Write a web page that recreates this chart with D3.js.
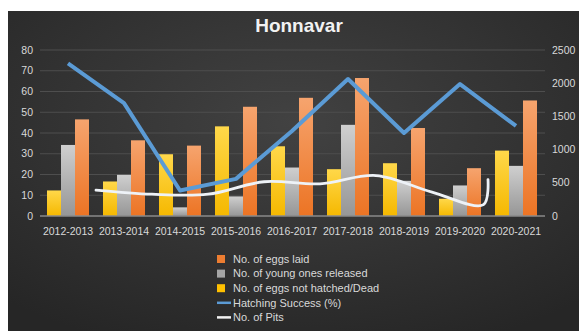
<!DOCTYPE html>
<meta charset="utf-8">
<style>
body { margin: 0; background: #fff; }
text { font-family: "Liberation Sans", Arial, sans-serif; }
</style>
<svg width="579" height="331"></svg>
<script src="https://d3js.org/d3.v7.min.js"></script>
<script>

var years = ["2012-2013", "2013-2014", "2014-2015", "2015-2016", "2016-2017",
             "2017-2018", "2018-2019", "2019-2020", "2020-2021"];
var eggsLaid = [1455, 1140, 1060, 1645, 1780, 2078, 1325, 720, 1740];
var youngReleased = [1070, 620, 130, 295, 730, 1373, 530, 460, 755];
var notHatched = [385, 520, 930, 1350, 1050, 705, 795, 260, 985];
var hatchSuccess = [73.5, 54.4, 12.3, 17.9, 41.0, 66.0, 40.0, 63.6, 43.4];
// pits line sits between the groups in the original, so keep its x as a category index
var pits = [12.5, 10.5, 10.5, 16.5, 15.5, 19.5, 11.5, 5.5, 17.5];
var pitIndex = [0.5, 1.5, 2.5, 3.5, 4.5, 5.5, 6.5, 7.42, 7.5];
var leftTicks = [0, 10, 20, 30, 40, 50, 60, 70, 80];
var rightTicks = [0, 500, 1000, 1500, 2000, 2500];

var svg = d3.select("svg");
var defs = svg.append("defs");

var bg = defs.append("radialGradient").attr("id", "bg")
    .attr("cx", "50%").attr("cy", "35%").attr("r", "75%");
bg.append("stop").attr("offset", "0%").attr("stop-color", "#424242");
bg.append("stop").attr("offset", "100%").attr("stop-color", "#262626");

function barGrad(id, top, bottom) {
  var g = defs.append("linearGradient").attr("id", id)
      .attr("x1", 0).attr("y1", 0).attr("x2", 0).attr("y2", 1);
  g.append("stop").attr("offset", "0%").attr("stop-color", top);
  g.append("stop").attr("offset", "100%").attr("stop-color", bottom);
}
barGrad("gOrange", "#f6a46e", "#ec7424");
barGrad("gGrey", "#cfcfcf", "#969696");
barGrad("gYellow", "#ffd84a", "#f5b800");

svg.append("rect")
    .attr("x", 8).attr("y", 11).attr("width", 571).attr("height", 320)
    .attr("fill", "url(#bg)");

var x = d3.scaleBand().domain(years).range([40, 544]).padding(0);
var sub = d3.scaleBand().domain(["dead", "young", "laid"])
    .range([7, x.bandwidth() - 7]).padding(0);
var yL = d3.scaleLinear().domain([0, 80]).range([216, 50]);
var yR = d3.scaleLinear().domain([0, 2500]).range([216, 50]);
var xi = d3.scaleLinear().domain([0, years.length - 1])
    .range([x(years[0]) + x.bandwidth() / 2, x(years[years.length - 1]) + x.bandwidth() / 2]);

// gridlines
svg.append("g").selectAll("line")
  .data(leftTicks.slice(1))
  .enter().append("line")
    .attr("x1", 40).attr("x2", 545)
    .attr("y1", function(d) { return yL(d); })
    .attr("y2", function(d) { return yL(d); })
    .attr("stroke", "#4e4e4e").attr("stroke-width", 1);

// left axis labels
svg.append("g").selectAll("text")
  .data(leftTicks)
  .enter().append("text")
    .attr("x", 33).attr("y", function(d) { return yL(d); })
    .attr("dy", "0.35em").attr("text-anchor", "end")
    .attr("font-size", 10.5).attr("fill", "#d9d9d9")
    .text(function(d) { return d; });

// right axis labels
svg.append("g").selectAll("text")
  .data(rightTicks)
  .enter().append("text")
    .attr("x", 552).attr("y", function(d) { return yR(d); })
    .attr("dy", "0.35em").attr("text-anchor", "start")
    .attr("font-size", 10.5).attr("fill", "#d9d9d9")
    .text(function(d) { return d; });

// bars
var series = [
  { key: "dead", vals: notHatched, fill: "url(#gYellow)" },
  { key: "young", vals: youngReleased, fill: "url(#gGrey)" },
  { key: "laid", vals: eggsLaid, fill: "url(#gOrange)" }
];
series.forEach(function(s) {
  svg.append("g").selectAll("rect")
    .data(s.vals)
    .enter().append("rect")
      .attr("x", function(d, i) { return x(years[i]) + sub(s.key); })
      .attr("width", sub.bandwidth())
      .attr("y", function(d) { return yR(d); })
      .attr("height", function(d) { return yR(0) - yR(d); })
      .attr("fill", s.fill);
});

// base axis line
svg.append("line")
    .attr("x1", 40).attr("x2", 545).attr("y1", yL(0)).attr("y2", yL(0))
    .attr("stroke", "#8a8a8a").attr("stroke-width", 1.3);

// category labels
svg.append("g").selectAll("text")
  .data(years)
  .enter().append("text")
    .attr("x", function(d) { return x(d) + x.bandwidth() / 2; })
    .attr("y", 235)
    .attr("text-anchor", "middle")
    .attr("font-size", 10.5).attr("fill", "#d9d9d9")
    .text(function(d) { return d; });

// hatching success line
var blueLine = d3.line()
    .x(function(d, i) { return x(years[i]) + x.bandwidth() / 2; })
    .y(function(d) { return yL(d); });
svg.append("path")
    .datum(hatchSuccess)
    .attr("d", blueLine)
    .attr("fill", "none").attr("stroke", "#5b9bd5")
    .attr("stroke-width", 4).attr("stroke-linejoin", "round");

// pits line (smoothed)
var whiteLine = d3.line()
    .x(function(d, i) { return xi(pitIndex[i]); })
    .y(function(d) { return yL(d); })
    .curve(d3.curveCatmullRom.alpha(0.5));
svg.append("path")
    .datum(pits)
    .attr("d", whiteLine)
    .attr("fill", "none").attr("stroke", "#eef2f7")
    .attr("stroke-width", 2.8).attr("stroke-linecap", "round");

// title
svg.append("text")
    .attr("x", 299).attr("y", 32)
    .attr("text-anchor", "middle")
    .attr("font-size", 19).attr("font-weight", "bold")
    .attr("fill", "#f2f2f2")
    .text("Honnavar");

// legend
var legend = [
  { label: "No. of eggs laid", type: "box", color: "#ed7d31" },
  { label: "No. of young ones released", type: "box", color: "#a5a5a5" },
  { label: "No. of eggs not hatched/Dead", type: "box", color: "#ffc000" },
  { label: "Hatching Success (%)", type: "line", color: "#5b9bd5" },
  { label: "No. of Pits", type: "line", color: "#f2f2f2" }
];
var lg = svg.append("g").selectAll("g")
  .data(legend)
  .enter().append("g")
    .attr("transform", function(d, i) { return "translate(217," + (259 + i * 14.6) + ")"; });
lg.filter(function(d) { return d.type === "box"; })
  .append("rect")
    .attr("x", 0).attr("y", -4).attr("width", 8).attr("height", 8)
    .attr("fill", function(d) { return d.color; });
lg.filter(function(d) { return d.type === "line"; })
  .append("line")
    .attr("x1", 0).attr("x2", 14).attr("y1", 0).attr("y2", 0)
    .attr("stroke", function(d) { return d.color; })
    .attr("stroke-width", 2.5);
lg.append("text")
    .attr("x", 16).attr("dy", "0.35em")
    .attr("font-size", 11).attr("fill", "#d9d9d9")
    .text(function(d) { return d.label; });

</script>
